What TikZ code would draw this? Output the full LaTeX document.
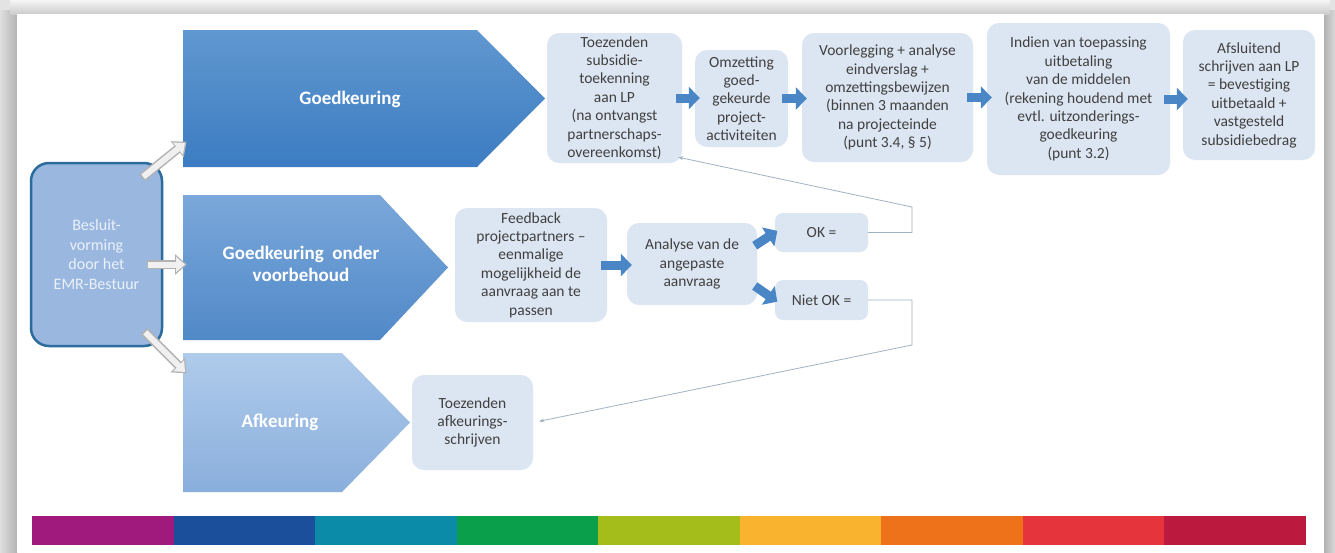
\documentclass[tikz,border=0pt]{standalone}
\usepackage{fontspec}
\setmainfont{Carlito}
\usepackage{tikz}
\usetikzlibrary{arrows.meta,calc}
\definecolor{boxblue}{HTML}{DCE6F2}
\definecolor{txtgray}{HTML}{404040}
\definecolor{fatblue}{HTML}{4A86C6}
\definecolor{linegray}{HTML}{A2B2C2}
\definecolor{besfill}{HTML}{9AB7E0}
\definecolor{besdraw}{HTML}{2C6C9C}
\definecolor{ptop}{HTML}{6098D0}
\definecolor{pbot}{HTML}{3C7CC2}
\definecolor{qtop}{HTML}{7BA7DA}
\definecolor{qbot}{HTML}{5089C8}
\definecolor{rtop}{HTML}{AFCBEB}
\definecolor{rbot}{HTML}{8AAEDC}
\definecolor{bar1}{HTML}{A0197D}
\definecolor{bar2}{HTML}{1B4F9C}
\definecolor{bar3}{HTML}{0B8BA8}
\definecolor{bar4}{HTML}{0A9F4A}
\definecolor{bar5}{HTML}{A4BD1B}
\definecolor{bar6}{HTML}{F9B32E}
\definecolor{bar7}{HTML}{EE7219}
\definecolor{bar8}{HTML}{E5343C}
\definecolor{bar9}{HTML}{BB1A3E}

\begin{document}
\begin{tikzpicture}[x=1pt,y=-1pt,
	stap/.style={fill=boxblue, rounded corners=12pt, text=txtgray, align=center, inner sep=1pt, font=\fontsize{15.5}{18.4}\selectfont},
	kop/.style={text=white, align=center, font=\fontsize{19}{22}\selectfont\bfseries},
	dik/.style={fatblue, line width=9pt, -{Triangle[length=11pt,width=22pt]}, shorten <=-6pt, shorten >=-5pt},
	hol/.style={draw=gray!12, line width=6pt, -{Triangle[length=9pt,width=15pt]},
		preaction={draw=gray!60, line width=9pt, -{Triangle[length=12pt,width=20pt]}, shorten >=-2pt, shorten <=-1.5pt}},
	lijn/.style={linegray, line width=0.8pt, -{Stealth[length=5pt,width=4pt]}}]
	\useasboundingbox (0,0) rectangle (1335,552);
	% frame
	\fill[gray!22] (0,0) rectangle (1335,552);
	\shade[left color=gray!25, right color=gray!60] (0,10) rectangle (17,552);
	\shade[left color=gray!60, right color=gray!30] (1324,10) rectangle (1335,552);
	\shade[top color=gray!8, bottom color=gray!40] (10,0) rectangle (1330,14);
	\fill[white] (17,14) rectangle (1324,552);
	% arrows of the decision
	\shade[top color=ptop, bottom color=pbot] (183,30) -- (477,30) -- (545,98.5) -- (477,167) -- (183,167) -- cycle;
	\node[kop] (goed) at (350,99) {Goedkeuring};
	\shade[top color=qtop, bottom color=qbot] (183,195) -- (380,195) -- (448,267.5) -- (380,340) -- (183,340) -- cycle;
	\node[kop] (goedvb) at (301,264) {Goedkeuring~ onder\\voorbehoud};
	\shade[top color=rtop, bottom color=rbot] (183,353) -- (342,353) -- (410,422.5) -- (342,492) -- (183,492) -- cycle;
	\node[kop] (afkeur) at (280,422) {Afkeuring};
	\node[draw=besdraw, line width=2.5pt, fill=besfill, rounded corners=18pt, minimum width=131pt, minimum height=183pt, text=white!80!besfill, align=center, font=\fontsize{16}{19.5}\selectfont] (besluit) at (96.5,254.5) {Besluit-\\vorming\\door het\\EMR-Bestuur};
	\coordinate (goedin) at (185,143);
	\coordinate (goedvbin) at (185,264.5);
	\coordinate (afkin) at (185,372);
	\draw[hol] ([shift={(-20,15)}]besluit.north east) -- (goedin);
	\draw[hol] ([shift={(-15,10)}]besluit.east) -- (goedvbin);
	\draw[hol] ([shift={(-18,-15)}]besluit.south east) -- (afkin);
	% steps
	\node[stap, minimum width=135pt, minimum height=130pt] (toez) at (614.5,98) {Toezenden\\subsidie-\\toekenning\\aan LP\\(na ontvangst\\partnerschaps-\\overeenkomst)};
	\node[stap, minimum width=93pt, minimum height=97pt] (omz) at (741.5,98.5) {Omzetting\\goed-\\gekeurde\\project-\\activiteiten};
	\node[stap, minimum width=171pt, minimum height=129pt] (voor) at (887.5,97.5) {Voorlegging + analyse\\eindverslag +\\omzettingsbewijzen\\(binnen 3 maanden\\na projecteinde\\(punt 3.4, § 5)};
	\node[stap, minimum width=183pt, minimum height=152pt] (indien) at (1078.5,99) {Indien van toepassing\\uitbetaling\\van de middelen\\(rekening houdend met\\evtl. uitzonderings-\\goedkeuring\\(punt 3.2)};
	\node[stap, minimum width=132pt, minimum height=130pt] (afsl) at (1249,95) {Afsluitend\\schrijven aan LP\\= bevestiging\\uitbetaald +\\vastgesteld\\subsidiebedrag};
	\node[stap, minimum width=152pt, minimum height=114pt] (feed) at (531,265) {Feedback\\projectpartners –\\eenmalige\\mogelijkheid de\\aanvraag aan te\\passen};
	\node[stap, minimum width=130pt, minimum height=82pt] (anal) at (692,264) {Analyse van de\\angepaste\\aanvraag};
	\node[stap, rounded corners=8pt, minimum width=93pt, minimum height=39pt] (ok) at (821.5,232.5) {OK =};
	\node[stap, rounded corners=8pt, minimum width=93pt, minimum height=40pt] (niet) at (821.5,300) {Niet OK =};
	\node[stap, minimum width=121pt, minimum height=95pt] (afk) at (472.5,422.5) {Toezenden\\afkeurings-\\schrijven};
	% connectors
	\draw[dik] (toez.east) -- (toez.east -| omz.west);
	\draw[dik] (omz.east) -- (omz.east -| voor.west);
	\draw[dik] (voor.east) -- (voor.east -| indien.west);
	\draw[dik] (indien.east) -- (indien.east -| afsl.west);
	\draw[dik] (feed.east) -- (feed.east -| anal.west);
	\draw[dik, shorten <=-3pt, shorten >=-3pt] (anal.17) -- (ok.west);
	\draw[dik, shorten <=-3pt, shorten >=-3pt] (anal.-20) -- (niet.west);
	\coordinate (okhoek) at (912,207);
	\coordinate (niethoek) at (912,345);
	\draw[lijn] (ok.east) -| (okhoek) -- ([shift={(-4,-6)}]toez.south east);
	\draw[lijn, shorten >=6pt] (niet.east) -| (niethoek) -- (afk.east);
	% colour bar
	\foreach \kl [count=\i from 0] in {bar1,bar2,bar3,bar4,bar5,bar6,bar7,bar8,bar9}
		\fill[\kl] (32+\i*141.55,516) rectangle ++(141.6,29);
\end{tikzpicture}
\end{document}
